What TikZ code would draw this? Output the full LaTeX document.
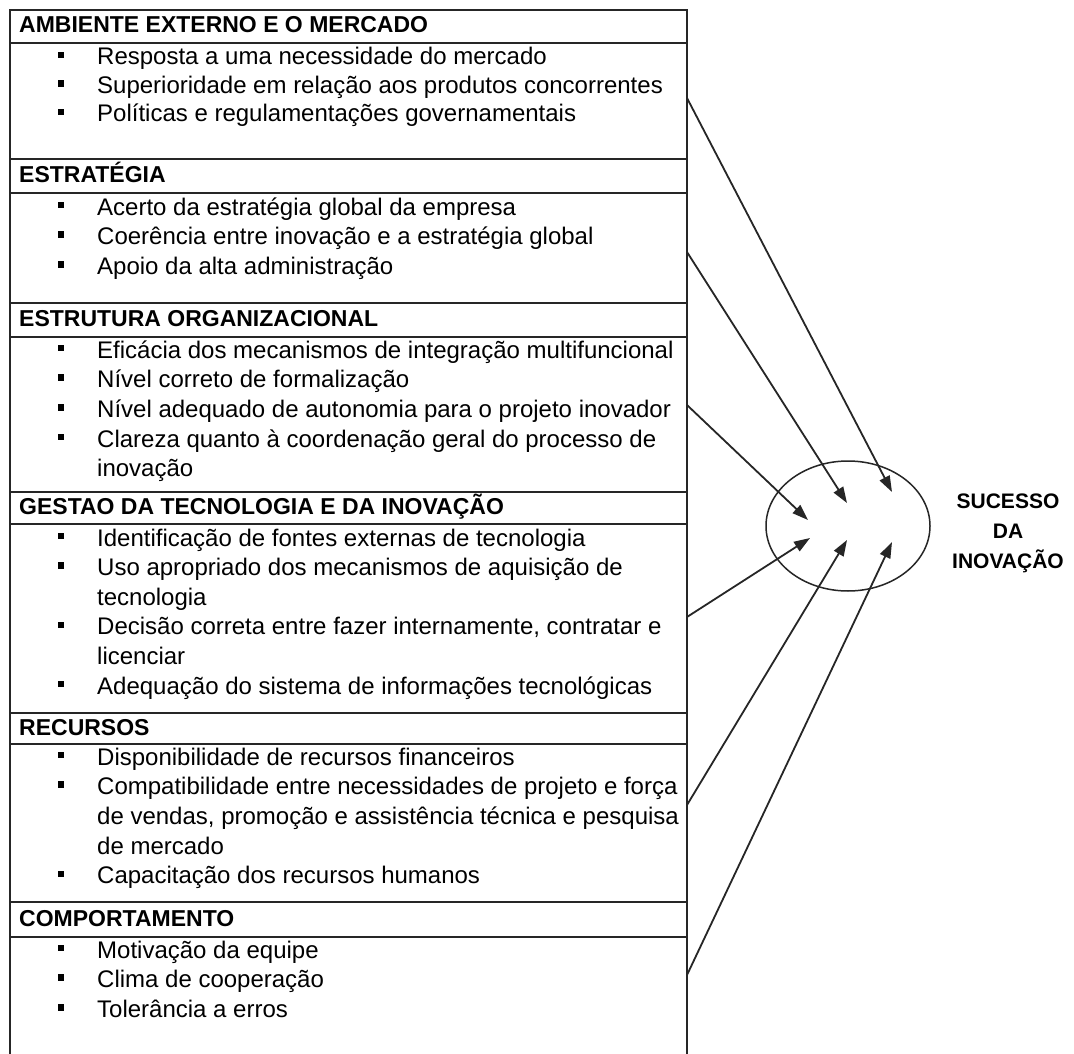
\documentclass[tikz,border=0pt]{standalone}
\usepackage{fontspec}
\setmainfont{Liberation Sans}
\usetikzlibrary{arrows.meta,shapes.geometric}
\begin{document}
\begin{tikzpicture}[x=1pt,y=-1pt,
  rule/.style={line width=1.8pt, draw=black!85},
  head/.style={anchor=base west, inner sep=0pt, yshift=-6.5pt,
               font=\fontsize{23}{26}\selectfont\bfseries},
  item/.style={anchor=base west, inner sep=0pt, yshift=-7pt,
               font=\fontsize{24}{28}\selectfont},
  bul/.style={fill=black, minimum width=5.5pt, minimum height=6.5pt, inner sep=0pt, yshift=3pt},
  link/.style={line width=1.8pt, draw=black!85, -{Triangle[length=16pt,width=11pt]}},
]
\useasboundingbox (0,0) rectangle (1074,1054);
\fill[white] (0,0) rectangle (1074,1054);

% frame of the factor table
\draw[rule] (10,1054) -- (10,10) -- (687,10) -- (687,1054);
\foreach \yy in {43,159,193,303,337,492,524,713,744,902,937}
  \draw[rule] (10,\yy) -- (687,\yy);

% section headings
\node[head] (h1) at (19,26.5) {AMBIENTE EXTERNO E O MERCADO};
\node[head] (h2) at (19,176) {ESTRATÉGIA};
\node[head] (h3) at (19,320) {ESTRUTURA ORGANIZACIONAL};
\node[head] (h4) at (19,508) {GESTAO DA TECNOLOGIA E DA INOVAÇÃO};
\node[head] (h5) at (19,728.5) {RECURSOS};
\node[head] (h6) at (19,919.5) {COMPORTAMENTO};

% bulleted items
\foreach \yy in {58,86.5,115, 208,237.7,267.4, 351,380.7,410.4,440.1,
                 539,568.7,627.8,687, 758,787.7,876.8, 951,980.7,1010.4}
  \node[bul] at (61,\yy) {};

\node[item] (a1) at (97,58)    {Resposta a uma necessidade do mercado};
\node[item] (a2) at (97,86.5)  {Superioridade em relação aos produtos concorrentes};
\node[item] (a3) at (97,115)   {Políticas e regulamentações governamentais};

\node[item] (b1) at (97,208)   {Acerto da estratégia global da empresa};
\node[item] (b2) at (97,237.7) {Coerência entre inovação e a estratégia global};
\node[item] (b3) at (97,267.4) {Apoio da alta administração};

\node[item] (c1) at (97,351)   {Eficácia dos mecanismos de integração multifuncional};
\node[item] (c2) at (97,380.7) {Nível correto de formalização};
\node[item] (c3) at (97,410.4) {Nível adequado de autonomia para o projeto inovador};
\node[item] (c4) at (97,440.1) {Clareza quanto à coordenação geral do processo de};
\node[item] (c5) at (97,469.8) {inovação};

\node[item] (d1) at (97,539)   {Identificação de fontes externas de tecnologia};
\node[item] (d2) at (97,568.7) {Uso apropriado dos mecanismos de aquisição de};
\node[item] (d3) at (97,598.4) {tecnologia};
\node[item] (d4) at (97,627.8) {Decisão correta entre fazer internamente, contratar e};
\node[item] (d5) at (97,657.4) {licenciar};
\node[item] (d6) at (97,687)   {Adequação do sistema de informações tecnológicas};

\node[item] (e1) at (97,758)   {Disponibilidade de recursos financeiros};
\node[item] (e2) at (97,787.7) {Compatibilidade entre necessidades de projeto e força};
\node[item] (e3) at (97,817.4) {de vendas, promoção e assistência técnica e pesquisa};
\node[item] (e4) at (97,847.1) {de mercado};
\node[item] (e5) at (97,876.8) {Capacitação dos recursos humanos};

\node[item] (f1) at (97,951)   {Motivação da equipe};
\node[item] (f2) at (97,980.7) {Clima de cooperação};
\node[item] (f3) at (97,1010.4){Tolerância a erros};

% outcome
\node[draw=black!85, line width=1.5pt, ellipse, minimum width=164pt, minimum height=130pt,
      inner sep=0pt] (core) at (848,526) {};
\node[align=center, inner sep=0pt, font=\fontsize{21}{30}\selectfont\bfseries]
      (goal) at (1008,533) {SUCESSO\\DA\\INOVAÇÃO};

% arrow origins on the table edge and their tips inside the ellipse
\coordinate (s1) at (687,98);
\coordinate (s2) at (687,252);
\coordinate (s3) at (687,405);
\coordinate (s4) at (687,617);
\coordinate (s5) at (687,805);
\coordinate (s6) at (687,975);
\coordinate (t1) at (892,492);
\coordinate (t2) at (847,503);
\coordinate (t3) at (808,520);
\coordinate (t4) at (810,538);
\coordinate (t5) at (847,540);
\coordinate (t6) at (892,542);
\foreach \i in {1,...,6}
  \draw[link] (s\i) -- (t\i);
\end{tikzpicture}
\end{document}
